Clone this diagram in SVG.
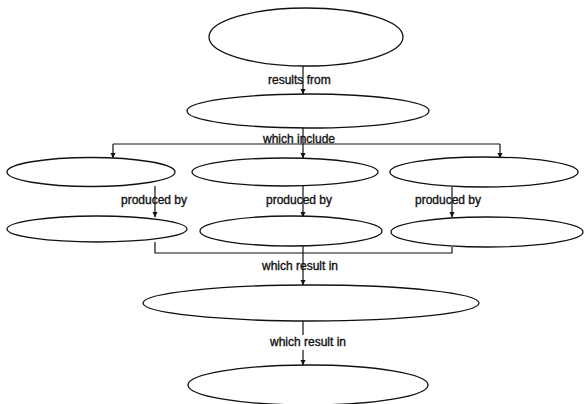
<svg xmlns="http://www.w3.org/2000/svg" width="585" height="404" viewBox="0 0 585 404">
<defs>
<marker id="arr" markerWidth="6" markerHeight="6" refX="5" refY="3" orient="auto" markerUnits="userSpaceOnUse">
<path d="M0,0.5 L5.5,3 L0,5.5 Z" fill="#111"/>
</marker>
<style>
.n{fill:#fff;stroke:#111;stroke-width:1.3}
.c{fill:none;stroke:#111;stroke-width:1.2}
.a{marker-end:url(#arr)}
.t{font-family:"Liberation Sans",Arial,sans-serif;font-size:12px;fill:#111;stroke:#111;stroke-width:0.35}
</style>
</defs>
<rect width="585" height="404" fill="#fff"/>
<g id="connectors">
<line class="c a" x1="303" y1="66" x2="303" y2="94"/>
<line class="c" x1="303" y1="128" x2="303" y2="144"/>
<line class="c" x1="113" y1="144" x2="500" y2="144"/>
<line class="c a" x1="113" y1="144" x2="113" y2="158"/>
<line class="c a" x1="303" y1="144" x2="303" y2="158"/>
<line class="c a" x1="500" y1="144" x2="500" y2="158"/>
<line class="c a" x1="155" y1="186" x2="155" y2="217"/>
<line class="c a" x1="303" y1="186" x2="303" y2="217"/>
<line class="c a" x1="452" y1="187" x2="452" y2="217"/>
<polyline class="c" points="155,242 155,253 452,253 452,247"/>
<line class="c" x1="303" y1="246" x2="303" y2="253"/>
<line class="c a" x1="303" y1="253" x2="303" y2="285"/>
<line class="c" x1="303" y1="321" x2="303" y2="335"/>
<line class="c a" x1="303" y1="350" x2="303" y2="365"/>
<text class="t" x="268" y="84">results from</text>
<text class="t" x="263" y="143">which include</text>
<text class="t" x="121" y="204">produced by</text>
<text class="t" x="266" y="204">produced by</text>
<text class="t" x="415" y="204">produced by</text>
<text class="t" x="262" y="270">which result in</text>
<text class="t" x="270" y="346">which result in</text>
</g>
<g id="n1"><ellipse class="n" cx="306" cy="37" rx="97" ry="29"/></g>
<g id="n2"><ellipse class="n" cx="308" cy="111" rx="121" ry="17"/></g>
<g id="n3"><ellipse class="n" cx="91" cy="172" rx="84" ry="14.5"/></g>
<g id="n4"><ellipse class="n" cx="285" cy="172" rx="93" ry="14"/></g>
<g id="n5"><ellipse class="n" cx="484" cy="172" rx="94" ry="15"/></g>
<g id="n6"><ellipse class="n" cx="97" cy="229" rx="90" ry="13"/></g>
<g id="n7"><ellipse class="n" cx="291" cy="231" rx="91" ry="15"/></g>
<g id="n8"><ellipse class="n" cx="487" cy="232" rx="96" ry="15"/></g>
<g id="n9"><ellipse class="n" cx="311" cy="303" rx="168" ry="18"/></g>
<g id="n10"><ellipse class="n" cx="308" cy="385" rx="120" ry="20"/></g>
</svg>
